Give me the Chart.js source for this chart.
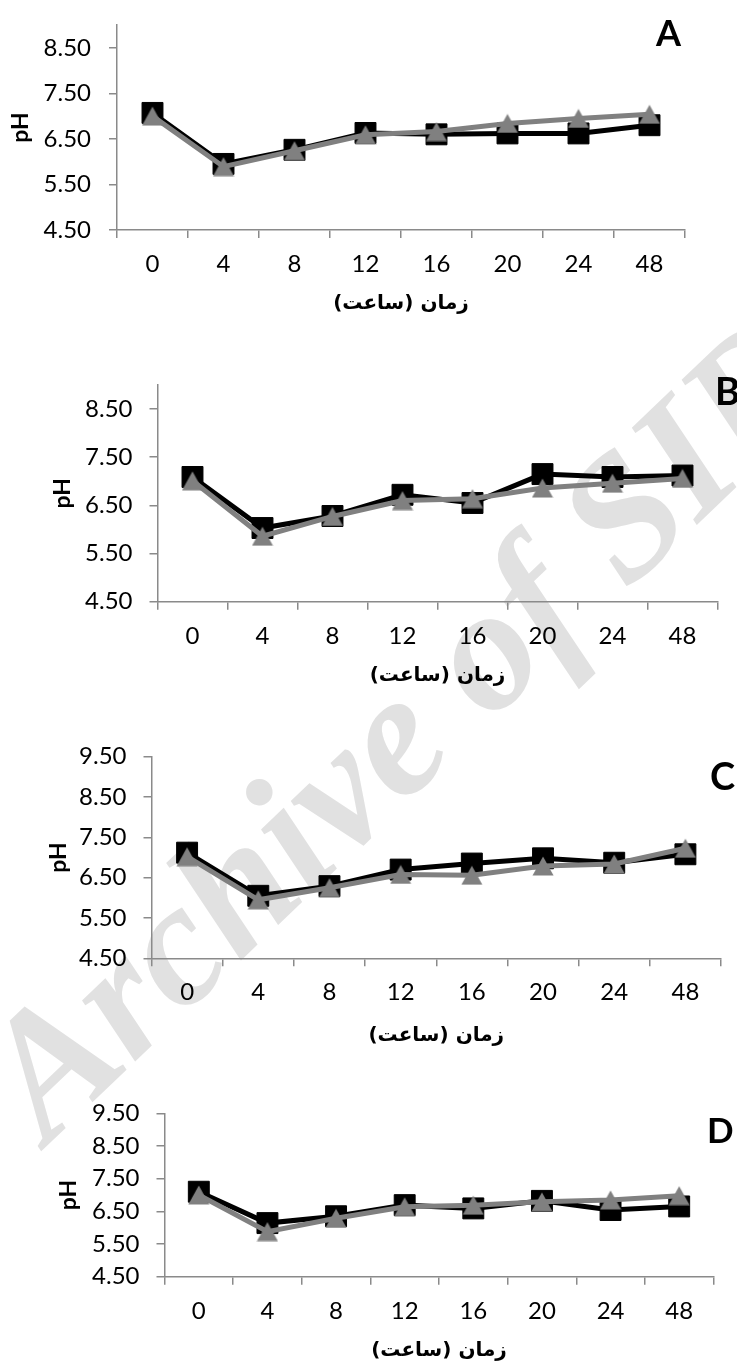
<!DOCTYPE html>
<html>
<head>
<meta charset="utf-8">
<script src="https://cdn.jsdelivr.net/npm/chart.js@4.4.1/dist/chart.umd.min.js"></script>
<style>
  html, body { margin: 0; padding: 0; background: #fff; }
  #page { position: relative; width: 737px; height: 1364px; overflow: hidden; background: #fff; }
  #page canvas { position: absolute; left: 0; }
  .watermark {
    position: absolute; left: 47.6px; top: 998.4px;
    font: italic bold 176px 'Liberation Serif', serif;
    color: #e1e1e1; white-space: nowrap; line-height: 1;
    transform-origin: 0 147.4px; transform: rotate(-43.7deg);
  }
</style>
</head>
<body>
<div id="page">
  <div class="watermark">Archive of SID</div>
  <canvas id="chartA" width="737" height="320" style="top:0px"></canvas>
  <canvas id="chartB" width="737" height="370" style="top:320px"></canvas>
  <canvas id="chartC" width="737" height="360" style="top:690px"></canvas>
  <canvas id="chartD" width="737" height="314" style="top:1050px"></canvas>
</div>
<script>
// Sampling times (hours)
const hours = ['0', '4', '8', '12', '16', '20', '24', '48'];

// pH tick values for each panel pair
const phTicksAB = [4.5, 5.5, 6.5, 7.5, 8.5];
const phTicksCD = [4.5, 5.5, 6.5, 7.5, 8.5, 9.5];

// Panel A
const squareA   = [7.07, 5.95, 6.26, 6.63, 6.60, 6.62, 6.62, 6.80];
const triangleA = [7.00, 5.89, 6.24, 6.59, 6.66, 6.84, 6.95, 7.04];
// Panel B
const squareB   = [7.09, 6.03, 6.28, 6.72, 6.55, 7.15, 7.09, 7.12];
const triangleB = [7.01, 5.86, 6.27, 6.60, 6.64, 6.86, 6.96, 7.06];
// Panel C
const squareC   = [7.12, 6.05, 6.29, 6.70, 6.85, 6.98, 6.87, 7.08];
const triangleC = [7.02, 5.95, 6.25, 6.58, 6.56, 6.79, 6.84, 7.23];
// Panel D
const squareD   = [7.10, 6.14, 6.35, 6.69, 6.59, 6.82, 6.54, 6.65];
const triangleD = [7.00, 5.88, 6.29, 6.64, 6.69, 6.79, 6.85, 6.98];

const xTitle = '\u200Fزمان (ساعت)\u200F';
const yTitle = 'pH';

const AXIS = '#8a8a8a';
const GREY = '#808080';
const W = 737;

Chart.defaults.font.family = 'Lato';

// Grey triangle marker centred in its own box
function makeTriangle(w, h, color) {
  const c = document.createElement('canvas');
  c.width = w; c.height = h;
  const g = c.getContext('2d');
  g.fillStyle = color;
  g.beginPath();
  g.moveTo(w / 2, 0.5);
  g.lineTo(w - 0.5, h - 0.5);
  g.lineTo(0.5, h - 0.5);
  g.closePath();
  g.fill();
  return c;
}
const triangleMarker = makeTriangle(22, 20, GREY);

// Panel letter drawn in the top-right corner
const panelLetter = {
  id: 'panelLetter',
  afterDraw(chart, args, opts) {
    const ctx = chart.ctx;
    ctx.save();
    ctx.font = 'bold ' + opts.size + 'px Lato';
    ctx.fillStyle = '#000';
    ctx.textAlign = 'left';
    ctx.textBaseline = 'alphabetic';
    ctx.fillText(opts.text, opts.x, opts.y);
    ctx.restore();
  }
};

function makePanel(id, letter, squares, triangles, yMax, yTicks, L) {
  return new Chart(document.getElementById(id), {
    type: 'line',
    data: {
      labels: hours,
      datasets: [
        {
          label: 'triangle', data: triangles, order: 0,
          borderColor: GREY, backgroundColor: GREY, borderWidth: 5, tension: 0,
          pointStyle: triangleMarker, pointRadius: 11, clip: false
        },
        {
          label: 'square', data: squares, order: 1,
          borderColor: '#000', backgroundColor: '#000', borderWidth: 5, tension: 0,
          pointStyle: 'rect', pointRadius: 14.8, pointBorderWidth: 1, clip: false
        }
      ]
    },
    options: {
      responsive: false,
      animation: false,
      events: [],
      layout: { padding: { left: 0, right: W - L.right, top: L.top, bottom: 0 } },
      plugins: {
        legend: { display: false },
        tooltip: { enabled: false },
        panelLetter: { text: letter, x: L.letterX, y: L.letterY, size: L.letterSize }
      },
      scales: {
        x: {
          offset: true,
          grid: { offset: true, drawOnChartArea: false, drawTicks: true, tickLength: 8, color: AXIS, lineWidth: 1.5 },
          border: { color: AXIS, width: 1.5 },
          ticks: { color: '#000', font: { size: 24 }, padding: 12, maxRotation: 0, autoSkip: false },
          title: {
            display: true, text: xTitle, color: '#000',
            font: { family: "'DejaVu Sans', Lato", size: 20, weight: 'bold' },
            padding: { top: 0, bottom: L.titlePad }
          },
          afterFit(s) { s.height = L.canvasH - L.bottom; s.paddingLeft = 0; s.paddingRight = 0; }
        },
        y: {
          min: 4.5, max: yMax,
          afterBuildTicks(s) { s.ticks = yTicks.map(v => ({ value: v })); },
          grid: { drawOnChartArea: false, drawTicks: true, tickLength: 8, color: AXIS, lineWidth: 1.5 },
          border: { color: AXIS, width: 1.5 },
          ticks: { color: '#000', font: { size: 24 }, padding: L.tickPad, callback: v => Number(v).toFixed(2) },
          title: {
            display: true, text: yTitle, color: '#000',
            font: { size: 23, weight: 'bold' },
            padding: { top: L.phPad, bottom: 0 }
          },
          afterFit(s) { s.width = L.left; s.paddingTop = 0; s.paddingBottom = 0; }
        }
      }
    },
    plugins: [panelLetter]
  });
}

makePanel('chartA', 'A', squareA, triangleA, 9.0, phTicksAB, {
  canvasH: 320, left: 117, right: 685, top: 25, bottom: 230,
  titlePad: 4, phPad: 7, tickPad: 18, letterX: 656, letterY: 46, letterSize: 36
});
makePanel('chartB', 'B', squareB, triangleB, 9.0, phTicksAB, {
  canvasH: 370, left: 157.5, right: 717.5, top: 65, bottom: 281.7,
  titlePad: 2, phPad: 49, tickPad: 17, letterX: 715, letterY: 85, letterSize: 38
});
makePanel('chartC', 'C', squareC, triangleC, 9.5, phTicksCD, {
  canvasH: 360, left: 151.5, right: 726, top: 66.7, bottom: 268.3,
  titlePad: 2, phPad: 45, tickPad: 17, letterX: 710, letterY: 100, letterSize: 38
});
makePanel('chartD', 'D', squareD, triangleD, 9.5, phTicksCD, {
  canvasH: 314, left: 164.5, right: 713.5, top: 63.3, bottom: 226.7,
  titlePad: 1, phPad: 55, tickPad: 17, letterX: 707, letterY: 93, letterSize: 35
});
</script>
</body>
</html>
